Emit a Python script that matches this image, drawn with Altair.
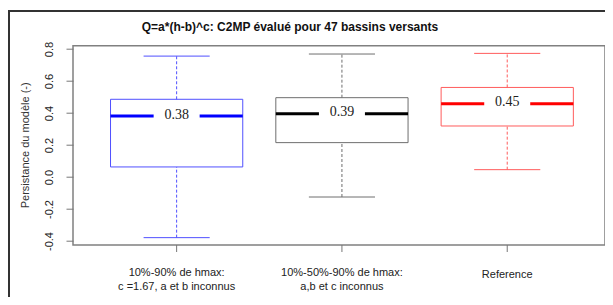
import altair as alt
import pandas as pd

# ---- data ----
positions = [1, 2, 3]
lower = [-0.379, -0.125, 0.046]
q1 = [0.063, 0.215, 0.319]
median = [0.381, 0.396, 0.458]
q3 = [0.486, 0.496, 0.560]
upper = [0.756, 0.769, 0.773]
median_labels = ["0.38", "0.39", "0.45"]
label_line1 = ["10%-90% de hmax:", "10%-50%-90% de hmax:", ""]
label_line2 = ["c =1.67, a et b inconnus", "a,b et c inconnus", ""]
label_single = ["", "", "Reference"]
box_colors = ["#5050ff", "#6e6e6e", "#ff5c5c"]
median_colors = ["#0000ff", "#000000", "#ff0000"]
title_text = "Q=a*(h-b)^c: C2MP évalué pour 47 bassins versants"
y_title = "Persistance du modèle (-)"
y_ticks = [-0.4, -0.2, 0.0, 0.2, 0.4, 0.6, 0.8]

df = pd.DataFrame({
    "pos": positions, "lower": lower, "q1": q1, "median": median,
    "q3": q3, "upper": upper, "mlabel": median_labels,
    "l1": label_line1, "l2": label_line2, "ls": label_single,
    "bcol": box_colors, "mcol": median_colors,
})

W, H = 532, 199.3
xscale = alt.Scale(domain=[0.373, 3.5915], nice=False, zero=False)
yscale = alt.Scale(domain=[-0.425, 0.821], nice=False, zero=False)
yaxis = alt.Axis(values=y_ticks, title=None, grid=False, domain=False,
                 tickSize=7, tickColor="#777777", tickWidth=1,
                 labelAngle=270, labelAlign="center", labelBaseline="bottom",
                 labelPadding=12, labelFont="Liberation Sans", labelFontSize=11,
                 labelColor="#222222",
                 labelExpr="replace(format(datum.value, '.1f'), '\u2212', '-')")

def X(f):
    return alt.X(f, type="quantitative", scale=xscale, axis=None)

def Y(f):
    return alt.Y(f, type="quantitative", scale=yscale, axis=yaxis)

base = alt.Chart(df).transform_calculate(
    bl="datum.pos - 0.4", br="datum.pos + 0.4",
    cl="datum.pos - 0.2", cr="datum.pos + 0.2")

box = base.mark_rect(fill="white", strokeWidth=1).encode(
    x=X("bl"), x2="br", y=Y("q1"), y2="q3",
    stroke=alt.Stroke("bcol:N", scale=None))

whisk_up = base.mark_rule(strokeDash=[3, 2], strokeWidth=1).encode(
    x=X("pos"), y=Y("q3"), y2="upper", color=alt.Color("bcol:N", scale=None))
whisk_lo = base.mark_rule(strokeDash=[3, 2], strokeWidth=1).encode(
    x=X("pos"), y=Y("lower"), y2="q1", color=alt.Color("bcol:N", scale=None))
cap_up = base.mark_rule(strokeWidth=1).encode(
    x=X("cl"), x2="cr", y=Y("upper"), color=alt.Color("bcol:N", scale=None))
cap_lo = base.mark_rule(strokeWidth=1).encode(
    x=X("cl"), x2="cr", y=Y("lower"), color=alt.Color("bcol:N", scale=None))

med = base.mark_rule(strokeWidth=3).encode(
    x=X("bl"), x2="br", y=Y("median"), color=alt.Color("mcol:N", scale=None))
med_bg = base.mark_tick(orient="horizontal", size=46, thickness=16,
                        color="white", opacity=1).encode(
    x=X("pos"), y=Y("median"))
med_txt = base.mark_text(font="Liberation Serif", fontSize=14, color="#222222",
                         baseline="alphabetic", dy=2.5).encode(
    x=X("pos"), y=Y("median"), text="mlabel:N")

xticks = base.mark_rule(color="#777777", strokeWidth=1).encode(
    x=X("pos"), y=alt.value(H), y2=alt.value(H + 7))
lab_font = dict(font="Liberation Sans", fontSize=11, color="#222222",
                baseline="middle")
xlab1 = base.mark_text(**lab_font).encode(
    x=X("pos"), y=alt.value(227.3), text="l1:N")
xlab2 = base.mark_text(**lab_font).encode(
    x=X("pos"), y=alt.value(241.6), text="l2:N")
xlabs = base.mark_text(**lab_font).encode(
    x=X("pos"), y=alt.value(229.5), text="ls:N")

single = alt.Chart(pd.DataFrame({"t": [title_text], "yt": [y_title]}))
title = single.mark_text(font="Liberation Sans", fontSize=12, fontWeight="bold",
                         color="#111111", baseline="alphabetic").encode(
    x=alt.value(217), y=alt.value(-14.7), text="t:N")
ytitle = single.mark_text(font="Liberation Sans", fontSize=11, color="#333333",
                          angle=270, baseline="middle").encode(
    x=alt.value(-47), y=alt.value(H / 2), text="yt:N")
frame_top = single.mark_rule(color="#333333", strokeWidth=2).encode(
    x=alt.value(-64), x2=alt.value(W), y=alt.value(-34.7))
frame_left = single.mark_rule(color="#333333", strokeWidth=2).encode(
    x=alt.value(-64), y=alt.value(-35.7), y2=alt.value(265))

chart = alt.layer(
    box, whisk_up, whisk_lo, cap_up, cap_lo, med, med_bg, med_txt,
    xticks, xlab1, xlab2, xlabs, title, ytitle, frame_top, frame_left
).properties(
    width=W, height=H,
    autosize=alt.AutoSizeParams(type="none"),
    padding={"left": 65, "top": 37.7, "right": 0, "bottom": 52},
).configure_view(stroke="#808080", strokeWidth=1.5)

chart.save("out.html", embed_options={"renderer": "svg", "actions": False})
